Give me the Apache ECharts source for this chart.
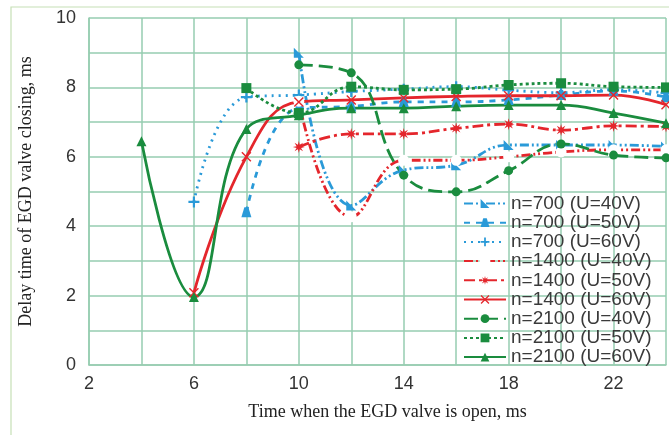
<!DOCTYPE html>
<html>
<head>
<meta charset="utf-8">
<script src="https://cdn.jsdelivr.net/npm/echarts@6/dist/echarts.min.js"></script>
<style>html,body{margin:0;padding:0;background:#fff;}#c{width:669px;height:435px;}</style>
</head>
<body>
<div id="c"></div>
<script>
// x positions (ms)
const xTicks = [2, 6, 10, 14, 18, 22];
const yTicks = [0, 2, 4, 6, 8, 10];

const n700_40_x = [10, 12, 14, 16, 18, 20, 22, 24];
const n700_40_y = [9.0, 4.6, 5.62, 5.76, 6.34, 6.34, 6.34, 6.3];

const n700_50_x = [8, 10, 12, 14, 16, 18, 20, 22, 24];
const n700_50_y = [4.4, 7.4, 7.45, 7.58, 7.58, 7.64, 7.78, 7.9, 7.72];

const n700_60_x = [6, 8, 10, 12, 14, 16, 18, 20, 22, 24];
const n700_60_y = [4.7, 7.72, 7.78, 7.88, 7.95, 8.02, 7.92, 7.85, 7.93, 7.84];

const n1400_40_x = [10, 12, 14, 16, 18, 20, 22, 24];
const n1400_40_y = [7.6, 4.27, 5.9, 5.9, 6.0, 6.14, 6.2, 6.2];

const n1400_50_x = [10, 12, 14, 16, 18, 20, 22, 24];
const n1400_50_y = [6.28, 6.66, 6.66, 6.82, 6.94, 6.77, 6.89, 6.87];

const n1400_60_x = [6, 8, 10, 12, 14, 16, 18, 20, 22, 24];
const n1400_60_y = [2.08, 6.0, 7.58, 7.64, 7.7, 7.74, 7.76, 7.76, 7.78, 7.5];

const n2100_40_x = [10, 12, 14, 16, 18, 20, 22, 24];
const n2100_40_y = [8.65, 8.42, 5.47, 4.99, 5.6, 6.37, 6.05, 5.97];

const n2100_50_x = [8, 10, 12, 14, 16, 18, 20, 22, 24];
const n2100_50_y = [7.98, 7.26, 8.02, 7.93, 7.95, 8.07, 8.12, 8.02, 8.0];

const n2100_60_x = [4, 6, 8, 10, 12, 14, 16, 18, 20, 22, 24];
const n2100_60_y = [6.45, 1.96, 6.8, 7.2, 7.4, 7.4, 7.46, 7.49, 7.49, 7.26, 6.97];

const BLUE = '#2a9ad8', RED = '#e4262c', GREEN = '#1a8c3e', GRID = '#96ccb0';

const SYM_FLAG = 'path://M0,0L10,10L0,10Z';
const SYM_BELL = 'path://M3,0L7,0L10,10L0,10Z';
const SYM_PLUS = 'path://M4,0H6V4H10V6H6V10H4V6H0V4H4Z';
const SYM_STAR = 'path://M10,5L6.85,5.77L8.54,8.54L5.77,6.85L5,10L4.23,6.85L1.46,8.54L3.15,5.77L0,5L3.15,4.23L1.46,1.46L4.23,3.15L5,0L5.77,3.15L8.54,1.46L6.85,4.23Z';
const SYM_X = 'path://M1,0L5,4L9,0L10,1L6,5L10,9L9,10L5,6L1,10L0,9L4,5L0,1Z';

function zip(xs, ys) { return xs.map((x, i) => [x, ys[i]]); }

function mk(name, xs, ys, color, dash, symbol, size, hollow) {
  return {
    name: name, type: 'line', smooth: 0.45,
    data: zip(xs, ys),
    symbol: symbol, symbolSize: size,
    showAllSymbol: true,
    lineStyle: { color: color, width: 2.8, type: dash },
    itemStyle: hollow ? { color: '#fff', borderColor: color, borderWidth: 2 } : { color: color, borderWidth: 0 },
    emphasis: { disabled: true },
    z: 3
  };
}

const series = [
  mk('n=700 (U=40V)', n700_40_x, n700_40_y, BLUE, [9, 3, 2, 3, 2, 3], SYM_FLAG, 10),
  mk('n=700 (U=50V)', n700_50_x, n700_50_y, BLUE, [6, 6], SYM_BELL, 10),
  mk('n=700 (U=60V)', n700_60_x, n700_60_y, BLUE, [2, 5], SYM_PLUS, 11),
  mk('n=1400 (U=40V)', n1400_40_x, n1400_40_y, RED, [9, 3, 2, 3, 2, 3], 'emptyCircle', 9, true),
  mk('n=1400 (U=50V)', n1400_50_x, n1400_50_y, RED, [11, 4, 3, 4], SYM_STAR, 12),
  mk('n=1400 (U=60V)', n1400_60_x, n1400_60_y, RED, 'solid', SYM_X, 10),
  mk('n=2100 (U=40V)', n2100_40_x, n2100_40_y, GREEN, [14, 6], 'circle', 9),
  mk('n=2100 (U=50V)', n2100_50_x, n2100_50_y, GREEN, [3, 3], 'rect', 10),
  mk('n=2100 (U=60V)', n2100_60_x, n2100_60_y, GREEN, 'solid', 'triangle', 10)
];

const chart = echarts.init(document.getElementById('c'), null, { renderer: 'canvas' });
chart.setOption({
  animation: false,
  backgroundColor: '#fff',
  graphic: [{
    type: 'rect', silent: true, z: -10,
    shape: { x: 11, y: 7, width: 700, height: 440 },
    style: { fill: 'none', stroke: '#c6e0b6', lineWidth: 1.2 }
  }],
  grid: { left: 89, right: 1, top: 18, bottom: 70, containLabel: false },
  legend: {
    orient: 'vertical', left: 458, top: 189,
    itemWidth: 42, itemHeight: 11, itemGap: 0.2,
    textStyle: { fontFamily: 'Liberation Sans, Arial, sans-serif', fontSize: 19, lineHeight: 19, color: '#3a3a3a' },
    data: series.map(s => s.name)
  },
  xAxis: {
    type: 'value', min: 2, max: 24, interval: 2,
    name: 'Time when the EGD valve is open, ms',
    nameLocation: 'middle', nameGap: 38,
    nameTextStyle: { fontFamily: 'Liberation Serif, Times New Roman, serif', fontSize: 18, color: '#222', padding: [0, 0, 0, 20] },
    axisLine: { show: true, lineStyle: { color: GRID, width: 1.5 } },
    axisTick: { show: false },
    splitLine: { show: true, lineStyle: { color: GRID, width: 1.5 } },
    axisLabel: {
      margin: 10, fontFamily: 'Liberation Sans, Arial, sans-serif', fontSize: 18, color: '#333',
      formatter: v => (xTicks.indexOf(v) >= 0 ? String(v) : '')
    }
  },
  yAxis: {
    type: 'value', min: 0, max: 10, interval: 1,
    name: 'Delay time of EGD valve closing, ms',
    nameLocation: 'middle', nameGap: 54,
    nameTextStyle: { fontFamily: 'Liberation Serif, Times New Roman, serif', fontSize: 18, color: '#222', padding: [0, 0, 0, 0] },
    axisLine: { show: true, lineStyle: { color: GRID, width: 1.5 } },
    axisTick: { show: false },
    splitLine: { show: true, lineStyle: { color: GRID, width: 1.5 } },
    axisLabel: {
      margin: 13, fontFamily: 'Liberation Sans, Arial, sans-serif', fontSize: 18, color: '#333',
      formatter: v => (yTicks.indexOf(v) >= 0 ? String(v) : '')
    }
  },
  series: series
});
</script>
</body>
</html>
